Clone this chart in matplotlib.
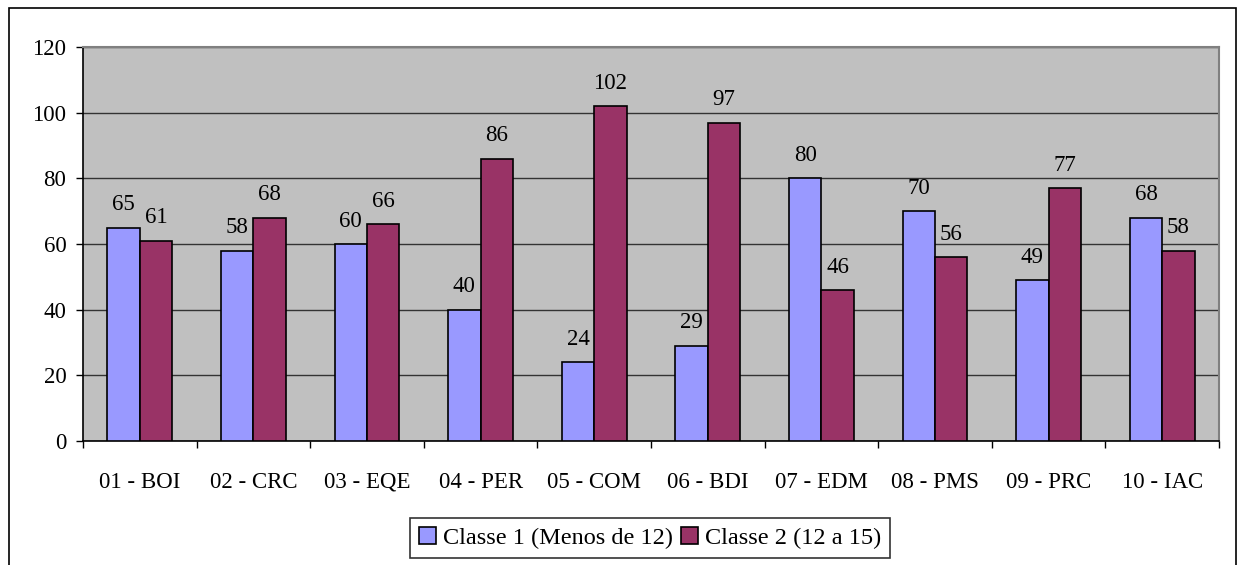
import matplotlib
matplotlib.use("Agg")
import matplotlib.pyplot as plt
import numpy as np
from matplotlib.patches import Rectangle

categories = ["01 - BOI", "02 - CRC", "03 - EQE", "04 - PER", "05 - COM",
              "06 - BDI", "07 - EDM", "08 - PMS", "09 - PRC", "10 - IAC"]
classe1 = [65, 58, 60, 40, 24, 29, 80, 70, 49, 68]
classe2 = [61, 68, 66, 86, 102, 97, 46, 56, 77, 58]
series_names = ["Classe 1 (Menos de 12)", "Classe 2 (12 a 15)"]
yticks = [0, 20, 40, 60, 80, 100, 120]

plt.rcParams['font.family'] = ['Liberation Serif', 'DejaVu Serif']

W, H = 1238, 565
fig = plt.figure(figsize=(W / 100, H / 100), dpi=100)
fig.patch.set_facecolor('white')

# outer chart border
fig.patches.append(Rectangle((9 / W, -0.1), (1236 - 9) / W, 0.1 + (H - 8) / H,
                             transform=fig.transFigure, fill=False,
                             edgecolor='black', linewidth=1.2, zorder=0))

ax = fig.add_axes([83 / W, (H - 441) / H, (1219 - 83) / W, (441 - 47) / H])
ax.set_facecolor('#C0C0C0')

x = np.arange(len(categories))
bw = 1 / 3.5
b1 = ax.bar(x - bw / 2, classe1, bw, color='#9999FF', edgecolor='black',
            linewidth=1.2, label=series_names[0], zorder=3)
b2 = ax.bar(x + bw / 2, classe2, bw, color='#993366', edgecolor='black',
            linewidth=1.2, label=series_names[1], zorder=3)

for bars, vals in ((b1, classe1), (b2, classe2)):
    for r, v in zip(bars, vals):
        ax.annotate(str(v), (r.get_x() + r.get_width() / 2, v),
                    xytext=(0, 12.5), textcoords='offset points',
                    ha='center', va='baseline', fontsize=16.5, color='black')

ax.set_xlim(-0.5, len(categories) - 0.5)
ax.set_ylim(0, 120)
ax.set_yticks(yticks)
ax.set_yticklabels([str(t) for t in yticks])
ax.yaxis.grid(True, color='#333333', linewidth=1.0, zorder=1)
ax.set_axisbelow(True)

ax.set_xticks(x)
ax.set_xticklabels(categories)
ax.set_xticks(np.arange(-0.5, len(categories) + 0.5, 1), minor=True)
ax.tick_params(axis='x', which='major', length=0, pad=22, labelsize=16.5)
ax.tick_params(axis='x', which='minor', length=5, width=1, direction='out', color='black')
ax.tick_params(axis='y', length=5, width=1, direction='out', pad=7, labelsize=16.5)

for s in ('top', 'right'):
    ax.spines[s].set_color('#808080')
    ax.spines[s].set_linewidth(1.5)
for s in ('left', 'bottom'):
    ax.spines[s].set_color('black')
    ax.spines[s].set_linewidth(1.2)

leg = fig.legend(handles=[b1, b2], labels=series_names, loc='center',
                 bbox_to_anchor=(650 / W, (H - 538) / H), ncol=2,
                 fontsize=17.5, frameon=True, fancybox=False,
                 edgecolor='black', handlelength=0.7, handleheight=0.7,
                 handletextpad=0.3, columnspacing=0.3, borderpad=0.35,
                 borderaxespad=0)
leg.get_frame().set_linewidth(1.2)

fig.savefig('out.png', dpi=100)
